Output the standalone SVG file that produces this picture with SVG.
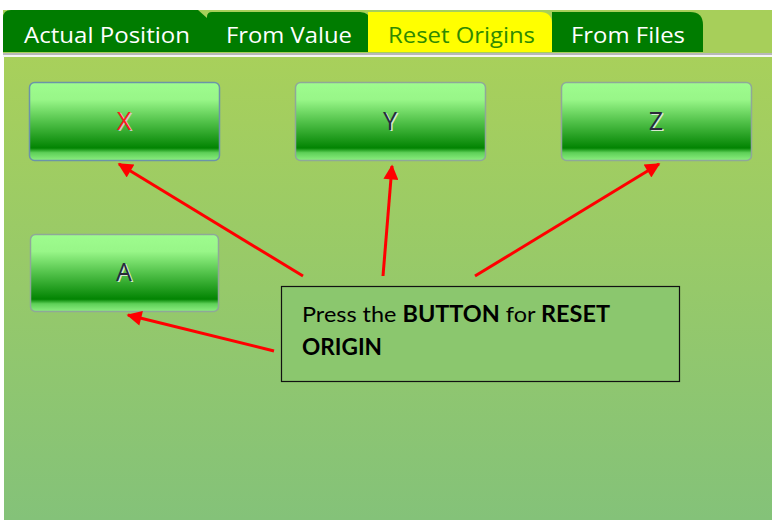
<svg xmlns="http://www.w3.org/2000/svg" width="772" height="520" viewBox="0 0 772 520">
  <defs>
    <linearGradient id="panel" x1="0" y1="0" x2="0" y2="1">
      <stop offset="0" stop-color="#a8d05b"/>
      <stop offset="1" stop-color="#84c279"/>
    </linearGradient>
    <linearGradient id="btn" x1="0" y1="0" x2="0" y2="1">
      <stop offset="0" stop-color="#9efc8e"/>
      <stop offset="0.22" stop-color="#98f688"/>
      <stop offset="0.5" stop-color="#52c24a"/>
      <stop offset="0.84" stop-color="#028402"/>
      <stop offset="0.9" stop-color="#5ed058"/>
      <stop offset="1" stop-color="#8cee80"/>
    </linearGradient>
    <marker id="ah" viewBox="0 0 10 10" refX="9" refY="5" markerWidth="5.5" markerHeight="5" markerUnits="strokeWidth" orient="auto">
      <path d="M0,0 L10,5 L0,10 Z" fill="#ff0000"/>
    </marker>
    <style>
      .tabtxt { font-family: "Open Sans", "Noto Sans", sans-serif; font-size: 22px; }
      .btnr { fill: url(#btn); stroke: #8fa898; stroke-width: 1.5; }
      .btnlbl { font-family: "Open Sans", "DejaVu Sans", sans-serif; font-size: 25px; text-anchor: middle; }
      .conn { stroke: #ff0000; stroke-width: 3; fill: none; marker-end: url(#ah); }
      .note { font-family: "Lato", "Open Sans", sans-serif; font-size: 22px; fill: #000; }
    </style>
  </defs>

  <rect x="0" y="0" width="772" height="520" fill="#ffffff"/>
  <rect x="3" y="10" width="769" height="43" fill="#a7cf5a"/>
  <rect x="3" y="53" width="769" height="2" fill="#b8b8b8"/>
  <rect x="3" y="55" width="769" height="2" fill="#f4f4f4"/>
  <rect x="4" y="57" width="768" height="463" fill="url(#panel)"/>

  <g id="tab-actual-position">
    <path d="M3,52 L3,18 Q3,10 11,10 L198,10 L207,18 L207,52 Z" fill="#007c00"/>
    <text class="tabtxt" x="24" y="43" fill="#ffffff" textLength="166" lengthAdjust="spacingAndGlyphs">Actual Position</text>
  </g>
  <g id="tab-from-value">
    <path d="M207,52 L207,17 Q207,12 212,12 L360,12 Q370,12 370,22 L370,52 Z" fill="#007c00"/>
    <text class="tabtxt" x="226" y="43" fill="#ffffff" textLength="126" lengthAdjust="spacingAndGlyphs">From Value</text>
  </g>
  <g id="tab-reset-origins">
    <path d="M368,52 L368,12 L540,12 Q552,12 552,24 L552,52 Z" fill="#ffff00"/>
    <text class="tabtxt" x="388" y="43" fill="#2f8a00" textLength="147" lengthAdjust="spacingAndGlyphs">Reset Origins</text>
  </g>
  <g id="tab-from-files">
    <path d="M552,52 L552,12 L690,12 Q703,12 703,25 L703,52 Z" fill="#007c00"/>
    <text class="tabtxt" x="571" y="43" fill="#ffffff" textLength="114" lengthAdjust="spacingAndGlyphs">From Files</text>
  </g>

  <g id="btn-x">
    <rect class="btnr" x="29.5" y="82.5" width="190" height="78" rx="5" style="stroke:#6b94a8"/>
    <text class="btnlbl" x="125.5" y="131" fill="#c8c8c8">X</text>
    <text class="btnlbl" x="124" y="130" fill="#ff1a1a">X</text>
  </g>
  <g id="btn-y">
    <rect class="btnr" x="295.5" y="82.5" width="190" height="78" rx="5"/>
    <text class="btnlbl" x="391.5" y="131" fill="#d8e8d0">Y</text>
    <text class="btnlbl" x="390" y="130" fill="#2a2a3a">Y</text>
  </g>
  <g id="btn-z">
    <rect class="btnr" x="561.5" y="82.5" width="190" height="78" rx="5"/>
    <text class="btnlbl" x="657.5" y="131" fill="#d8e8d0">Z</text>
    <text class="btnlbl" x="656" y="130" fill="#2a2a3a">Z</text>
  </g>
  <g id="btn-a">
    <rect class="btnr" x="30.5" y="234.5" width="188" height="77" rx="5"/>
    <text class="btnlbl" x="125.5" y="282" fill="#d8e8d0">A</text>
    <text class="btnlbl" x="124" y="281" fill="#2a2a3a">A</text>
  </g>

  <g id="note">
    <rect x="281.5" y="286.5" width="398" height="95" fill="#8bc76e" stroke="#111111" stroke-width="1.2"/>
    <text class="note" x="302" y="322" textLength="308" lengthAdjust="spacingAndGlyphs">Press the <tspan font-weight="bold">BUTTON</tspan> for <tspan font-weight="bold">RESET</tspan></text>
    <text class="note" x="302" y="355" font-weight="bold" textLength="80" lengthAdjust="spacingAndGlyphs">ORIGIN</text>
  </g>

  <g id="connectors">
    <line class="conn" x1="303" y1="276" x2="119" y2="164"/>
    <line class="conn" x1="383" y1="276" x2="392" y2="166"/>
    <line class="conn" x1="475" y1="276" x2="659" y2="164"/>
    <line class="conn" x1="274" y1="351" x2="128" y2="315"/>
  </g>
</svg>
